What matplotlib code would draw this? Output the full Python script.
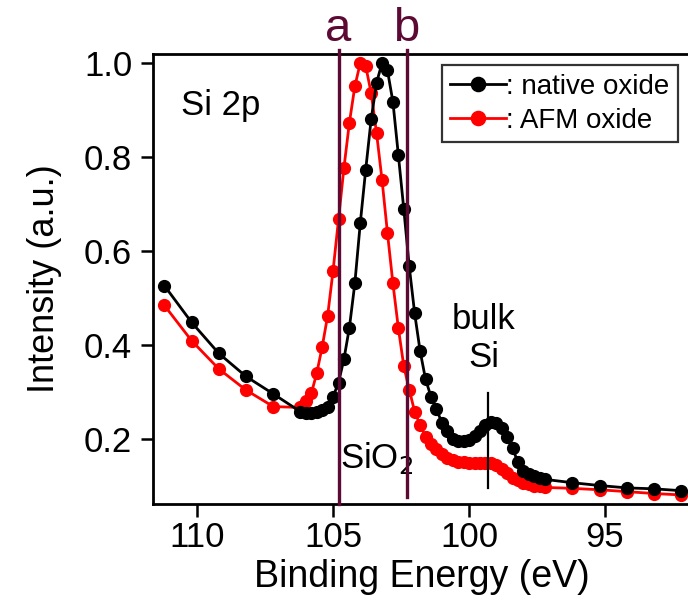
import numpy as np
import matplotlib
matplotlib.use("Agg")
import matplotlib.pyplot as plt

plt.rcParams['font.family'] = ['Liberation Sans', 'DejaVu Sans']

# Binding energy grid (eV): coarse 1 eV steps in the wings, 0.2 eV around the peaks
energy_high = [111.2, 110.2, 109.2, 108.2, 107.2]
energy_mid = [106.2, 106.0, 105.8, 105.6, 105.4, 105.2, 105.0, 104.8, 104.6, 104.4,
              104.2, 104.0, 103.8, 103.6, 103.4, 103.2, 103.0, 102.8, 102.6, 102.4,
              102.2, 102.0, 101.8, 101.6, 101.4, 101.2, 101.0, 100.8, 100.6, 100.4,
              100.2, 100.0, 99.8, 99.6, 99.4, 99.2, 99.0, 98.8, 98.6, 98.4,
              98.2, 98.0, 97.8, 97.6, 97.4, 97.2]
energy_low = [96.2, 95.2, 94.2, 93.2, 92.2]
energy = energy_high + energy_mid + energy_low

# Si 2p spectra, normalised intensity
native_oxide = [0.526, 0.448, 0.382, 0.333, 0.296,
                0.258, 0.255, 0.255, 0.257, 0.261, 0.269, 0.290, 0.320, 0.370, 0.437,
                0.531, 0.659, 0.773, 0.880, 0.958, 1.000, 0.984, 0.917, 0.804, 0.689,
                0.567, 0.467, 0.387, 0.327, 0.290, 0.263, 0.235, 0.216, 0.201, 0.196,
                0.195, 0.198, 0.206, 0.217, 0.229, 0.237, 0.234, 0.224, 0.205, 0.180,
                0.150, 0.132, 0.126, 0.122, 0.118, 0.114,
                0.107, 0.101, 0.096, 0.094, 0.090]
afm_oxide = [0.484, 0.409, 0.349, 0.304, 0.269,
             0.267, 0.280, 0.297, 0.340, 0.396, 0.462, 0.558, 0.667, 0.777, 0.873,
             0.950, 1.000, 0.993, 0.936, 0.850, 0.751, 0.638, 0.531, 0.436, 0.355,
             0.305, 0.258, 0.230, 0.205, 0.190, 0.178, 0.168, 0.160, 0.155, 0.152,
             0.150, 0.149, 0.149, 0.149, 0.149, 0.148, 0.145, 0.137, 0.127, 0.118,
             0.112, 0.107, 0.104, 0.101, 0.099, 0.097,
             0.095, 0.092, 0.088, 0.084, 0.081]

# window markers and the bulk Si marker
window_labels = ['a', 'b']
window_energy = [104.8, 102.3]
window_bottom = [0.0617, 0.0766]
bulk_energy = 99.3
bulk_range = [0.096, 0.298]

maroon = '#5c0a33'

fig = plt.figure(figsize=(6.88, 6.09), dpi=100)
ax = fig.add_axes([0.2224, 0.1724, 0.782, 0.739])

ax.plot(energy, native_oxide, color='black', lw=2.0, marker='o', ms=8.5,
        label=': native oxide', zorder=3)
ax.plot(energy, afm_oxide, color='#ff0000', lw=2.0, marker='o', ms=8.5,
        label=': AFM oxide', zorder=2)

for lab, e, yb in zip(window_labels, window_energy, window_bottom):
    ax.plot([e, e], [yb, 1.027], color=maroon, lw=2.4, clip_on=False, zorder=4)
    ax.text(e, 1.046, lab, color=maroon, fontsize=34, ha='center', va='baseline',
            transform=ax.transData, clip_on=False)

ax.plot([bulk_energy, bulk_energy], bulk_range, color='black', lw=1.6, zorder=5)

ax.text(110.6, 0.89, 'Si 2p', fontsize=25)
ax.text(99.45, 0.338, 'bulk\nSi', fontsize=25, ha='center', va='bottom',
        linespacing=1.2)
ax.text(104.75, 0.122, 'SiO$_2$', fontsize=25, ha='left', va='bottom')

ax.set_xlim(111.62, 91.84)
ax.set_ylim(0.0617, 1.019)
ax.set_xticks([110, 105, 100, 95])
ax.set_yticks([0.2, 0.4, 0.6, 0.8, 1.0])
ax.set_yticklabels(['0.2', '0.4', '0.6', '0.8', '1.0'])
ax.tick_params(direction='out', length=9, width=1.8, labelsize=25, pad=6)
ax.tick_params(axis='x', pad=3)

for side in ['left', 'bottom', 'top']:
    ax.spines[side].set_linewidth(2.0)
ax.spines['right'].set_visible(False)

ax.set_xlabel('Binding Energy (eV)', fontsize=27, labelpad=4)
ax.set_ylabel('Intensity (a.u.)', fontsize=26, labelpad=16)

leg = ax.legend(loc='upper right', bbox_to_anchor=(0.975, 0.975), fontsize=20,
                frameon=True, fancybox=False, handlelength=2.0, handletextpad=0.0,
                borderpad=0.3, labelspacing=0.3, borderaxespad=0.0, markerscale=1.2)
leg.get_frame().set_edgecolor('black')
leg.get_frame().set_linewidth(1.6)

fig.savefig('out.png', dpi=100)
